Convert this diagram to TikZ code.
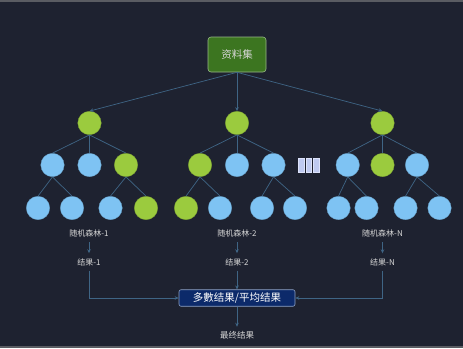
\documentclass[tikz,border=0pt]{standalone}
\usepackage{fontspec}
\newfontfamily\cjk{Noto Sans CJK SC}
\usetikzlibrary{arrows.meta}
\definecolor{bgc}{HTML}{1E2230}
\definecolor{rimc}{HTML}{5A5C62}
\definecolor{linec}{HTML}{3F6585}
\definecolor{greenc}{HTML}{9BCB3E}
\definecolor{bluec}{HTML}{7EC3F3}
\definecolor{txtc}{HTML}{D6D6D6}
\definecolor{datafill}{HTML}{3C7520}
\definecolor{datadraw}{HTML}{98B888}
\definecolor{resfill}{HTML}{0C2A6A}
\definecolor{resdraw}{HTML}{8EA2C6}
\definecolor{barc}{HTML}{BFCAF0}
\definecolor{bard}{HTML}{DDE3FA}
\begin{document}
\begin{tikzpicture}[x=1pt,y=-1pt,
  gn/.style={circle,fill=greenc,draw=greenc!80!black,line width=0.3pt,minimum size=23.5pt,inner sep=0pt},
  bn/.style={circle,fill=bluec,draw=bluec!80!black,line width=0.3pt,minimum size=23.5pt,inner sep=0pt},
  tl/.style={draw=linec,line width=0.7pt},
  arr/.style={draw=linec,line width=0.7pt,-{Stealth[length=4pt,width=3.5pt]}},
  lab/.style={font=\cjk\fontsize{8}{8}\selectfont,text=txtc,text height=7pt,text depth=1pt,inner sep=4.5pt},
  barn/.style={fill=barc,draw=bard,line width=0.4pt,minimum width=5.5pt,minimum height=14pt,inner sep=0pt}]
\fill[bgc] (0,0) rectangle (463,348);
\fill[rimc] (0,0) rectangle (463,1.5);
\fill[rimc] (0,346.3) rectangle (463,348);
\useasboundingbox (0,0) rectangle (463,348);

\node[fill=datafill,draw=datadraw,line width=0.6pt,rounded corners=3pt,minimum width=58pt,minimum height=35pt,inner sep=0pt,text=txtc,font=\cjk\fontsize{10.5}{10.5}\selectfont] (data) at (237,54.5) {资料集};

% tree 1
\node[gn] (a) at (89.5,123) {};
\node[bn] (a1) at (52.5,165) {};
\node[bn] (a2) at (89.5,165) {};
\node[gn] (a3) at (126,165) {};
\node[bn] (a11) at (38,208) {};
\node[bn] (a12) at (72,208) {};
\node[bn] (a31) at (110.5,208) {};
\node[gn] (a32) at (146,208) {};
% tree 2
\node[gn] (b) at (237,123) {};
\node[gn] (b1) at (200,165) {};
\node[bn] (b2) at (237,165) {};
\node[bn] (b3) at (273.5,165) {};
\node[gn] (b11) at (186,208) {};
\node[bn] (b12) at (220,208) {};
\node[bn] (b31) at (262,208) {};
\node[bn] (b32) at (295,208) {};
% tree N
\node[gn] (c) at (382.5,123) {};
\node[bn] (c1) at (347.7,165) {};
\node[gn] (c2) at (382.5,165) {};
\node[bn] (c3) at (417,165) {};
\node[bn] (c11) at (338.5,208) {};
\node[bn] (c12) at (366.5,208) {};
\node[bn] (c31) at (405.5,208) {};
\node[bn] (c32) at (439.5,208) {};

% ellipsis bars
\node[barn] (e1) at (301,165) {};
\node[barn] (e2) at (308.5,165) {};
\node[barn] (e3) at (316.3,165) {};

\draw[arr] (data.south) -- (a.north);
\draw[arr] (data.south) -- (b.north);
\draw[arr] (data.south) -- (c.north);

\foreach \p/\k in {a/a1,a/a2,a/a3,a1/a11,a1/a12,a3/a31,a3/a32,
                   b/b1,b/b2,b/b3,b1/b11,b1/b12,b3/b31,b3/b32,
                   c/c1,c/c2,c/c3,c1/c11,c1/c12,c3/c31,c3/c32}
  \draw[tl] (\p.south) -- (\k.north);

\node[lab] (f1) at (89,233.5) {随机森林-1};
\node[lab] (f2) at (237,233.5) {随机森林-2};
\node[lab] (f3) at (382.5,233.5) {随机森林-N};
\node[lab] (r1) at (89,262) {结果-1};
\node[lab] (r2) at (237,262) {结果-2};
\node[lab] (r3) at (382.5,262) {结果-N};

\node[fill=resfill,draw=resdraw,line width=0.6pt,rounded corners=2pt,minimum width=116pt,minimum height=16.5pt,inner sep=0pt,text=white,font=\cjk\fontsize{10.5}{10.5}\selectfont] (res) at (237,298) {多數结果/平均结果};

\node[lab,font=\cjk\fontsize{8.5}{8.5}\selectfont] (fin) at (237,335.5) {最终结果};

\draw[arr] (f1) -- (r1);
\draw[arr] (f2) -- (r2);
\draw[arr] (f3) -- (r3);
\draw[arr] (r1.south) |- (res.west);
\draw[arr] (r3.south) |- (res.east);
\draw[arr] (r2) -- (res);
\draw[arr] (res) -- (fin);
\end{tikzpicture}
\end{document}
